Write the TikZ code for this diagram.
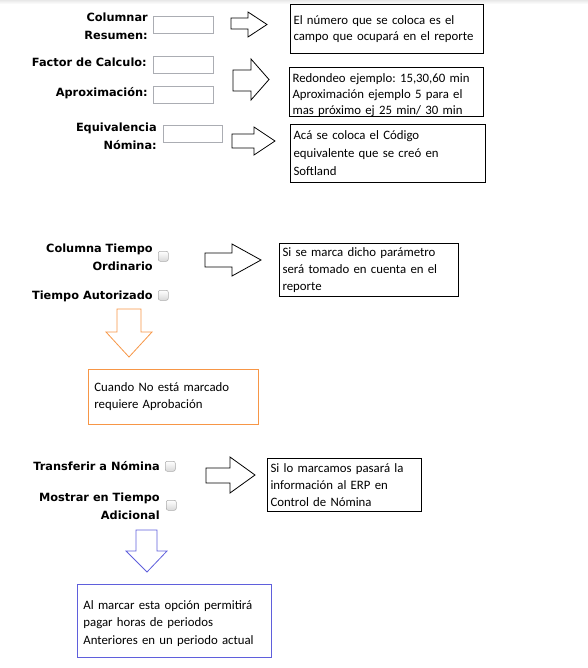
\documentclass[tikz,border=0pt]{standalone}
\usepackage{fontspec}
\setmainfont{Carlito}
\newfontfamily\labelfont{DejaVu Sans}
\definecolor{naranja}{RGB}{247,150,70}
\definecolor{azul}{RGB}{95,95,220}
\definecolor{borde}{RGB}{171,173,179}
\newcommand\singuion{\hyphenpenalty=10000\frenchspacing\relax}
\begin{document}
\begin{tikzpicture}[x=.75pt,y=-.75pt,line join=miter,
		etiqueta/.style={font=\labelfont\bfseries\fontsize{8.5}{13.5}\selectfont,align=right,anchor=east,inner sep=0pt},
		campo/.style={draw=borde,line width=.6pt,minimum width=45pt,minimum height=12.5pt,inner sep=0pt,anchor=north west},
		casilla/.style={draw=gray!65,rounded corners=1.5pt,top color=white,bottom color=gray!30,minimum size=7.5pt,inner sep=0pt,anchor=north west},
		nota/.style={draw,line width=.8pt,anchor=north west,align=left,inner xsep=2.25pt,inner ysep=0pt,font=\fontsize{9.6}{12.75}\selectfont\singuion},
		flecha/.style={draw,line width=.6pt,fill=white}]
	\useasboundingbox (0,0) rectangle (588,668);
	\shade[top color=gray!18,bottom color=white] (0,0) rectangle (588,4);
	% etiquetas en negrita
	\node[etiqueta] (colres) at (148,26.5) {Columnar\\Resumen:};
	\node[etiqueta] (factor) at (147,62.5) {Factor de Calculo:};
	\node[etiqueta] (aprox) at (148,93.5) {Aproximación:};
	\node[etiqueta] (equiv) at (157,136) {Equivalencia\\Nómina:};
	\node[etiqueta] (colord) at (153,257) {Columna Tiempo\\Ordinario};
	\node[etiqueta] (autor) at (153,296) {Tiempo Autorizado};
	\node[etiqueta] (transf) at (160,466) {Transferir a Nómina};
	\node[etiqueta] (mostrar) at (160,506) {Mostrar en Tiempo\\Adicional};
	% campos de texto y casillas
	\node[campo] (c1) at (153,16) {};
	\node[campo] (c2) at (153,56) {};
	\node[campo] (c3) at (153,86) {};
	\node[campo,minimum width=44.25pt] (c4) at (163,125) {};
	\foreach \n/\p in {k1/{158,251},k2/{158,290},k3/{165,461},k4/{166,500}}
		\node[casilla] (\n) at (\p) {};
	% flechas a la derecha: x0/xcabeza/xpunta/ymin/ymax/ysup/yinf
	\foreach \xa/\xh/\xb/\ya/\yb/\sa/\sb in {231/248/267/12/37/18/29,233/251/269/59/100/70/91,232/254/275/127/155/134/148,205/232/261/244/276/253/267,206/230/255/457/493/468/483}
		\draw[flecha] (\xa,\sa)--(\xh,\sa)--(\xh,\ya)--(\xb,{(\ya+\yb)/2})--(\xh,\yb)--(\xh,\sb)--(\xa,\sb)--cycle;
	% flechas hacia abajo
	\draw[flecha,draw=naranja] (117,309)--(141,309)--(141,332)--(152,332)--(129,357)--(106,332)--(117,332)--cycle;
	\draw[flecha,draw=azul] (136,530)--(157,530)--(157,551)--(167,551)--(147,572)--(126,551)--(136,551)--cycle;
	% cuadros de texto
	\node[nota,minimum width=144.75pt,minimum height=36.75pt,text width=140.25pt,font=\fontsize{9.6}{12}\selectfont\singuion] (n1) at (290,4)
		{El número que se coloca es el\\campo que ocupará en el reporte};
	\node[nota,minimum width=145.5pt,minimum height=35.25pt,text width=141pt,font=\fontsize{9.6}{11.8}\selectfont\singuion] (n2) at (289,67)
		{\rule{0pt}{11.5pt}Redondeo ejemplo: 15,30,60 min\\Aproximación ejemplo 5 para el\\mas próximo ej 25 min/ 30 min};
	\node[nota,minimum width=146.25pt,minimum height=43.5pt,text width=141.75pt,font=\fontsize{9.6}{13.5}\selectfont\singuion] (n3) at (290,124)
		{Acá se coloca el Código\\equivalente que se creó en\\Softland};
	\node[nota,minimum width=134.25pt,minimum height=39.75pt,text width=129.75pt] (n4) at (279,243)
		{Si se marca dicho parámetro\\será tomado en cuenta en el\\reporte};
	\node[nota,draw=naranja,line width=.6pt,inner xsep=4.5pt,minimum width=127.5pt,minimum height=41.25pt,text width=118.5pt] (n5) at (88,369)
		{Cuando No está marcado\\requiere Aprobación};
	\node[nota,minimum width=115.5pt,minimum height=39.75pt,text width=111pt] (n6) at (267,458)
		{Si lo marcamos pasará la\\información al ERP en\\Control de Nómina};
	\node[nota,draw=azul,line width=.6pt,inner xsep=4.5pt,minimum width=145.5pt,minimum height=54.75pt,text width=136.5pt,font=\fontsize{9.6}{13.1}\selectfont\singuion] (n7) at (77,584)
		{\rule{0pt}{10.5pt}Al marcar esta opción permitirá\\pagar horas de periodos\\Anteriores en un periodo actual};
\end{tikzpicture}
\end{document}
